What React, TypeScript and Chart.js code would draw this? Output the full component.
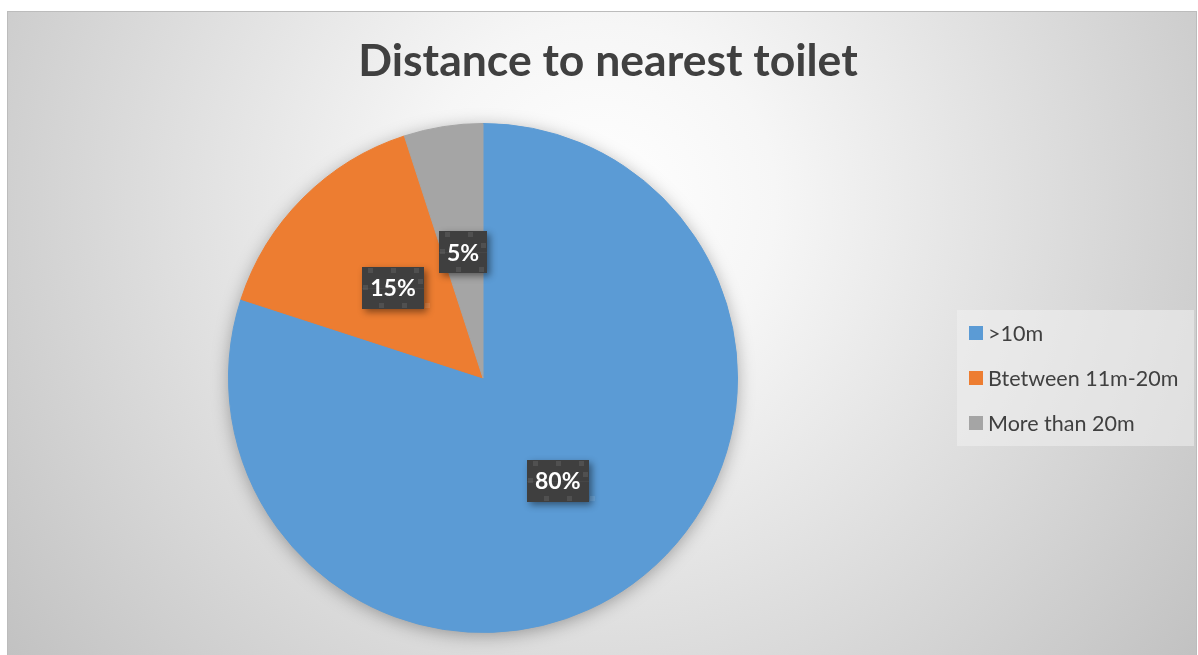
import React, { useEffect, useRef } from "react";
import { Chart, registerables } from "chart.js";

Chart.register(...registerables);

const categories = [">10m", "Btetween 11m-20m", "More than 20m"];
const values = [80, 15, 5];
const percentLabels = ["80%", "15%", "5%"];
const colors = ["#5b9bd5", "#ed7d31", "#a5a5a5"];
const titleText = "Distance to nearest toilet";

const W = 1198;
const H = 655;

const backgroundPlugin = {
  id: "bgPlugin",
  beforeDraw(chart: any) {
    const ctx = chart.ctx;
    ctx.save();
    ctx.fillStyle = "#ffffff";
    ctx.fillRect(0, 0, W, H);
    const g = ctx.createRadialGradient(600, 200, 0, 600, 200, 800);
    g.addColorStop(0, "#ffffff");
    g.addColorStop(0.22, "#f6f6f6");
    g.addColorStop(1, "#bdbdbd");
    ctx.fillStyle = g;
    ctx.fillRect(7, 11, 1190, 650);
    ctx.strokeStyle = "#bcbcbc";
    ctx.lineWidth = 1;
    ctx.strokeRect(7.5, 11.5, 1189, 660);
    // title
    ctx.fillStyle = "#404040";
    ctx.font = "bold 44.5px Lato, 'Open Sans', sans-serif";
    ctx.textAlign = "center";
    ctx.textBaseline = "alphabetic";
    ctx.fillText(titleText, 608, 76);
    // legend box
    ctx.fillStyle = "rgba(240,240,240,0.55)";
    ctx.fillRect(957, 310, 237, 136);
    const rows = [333, 378, 423];
    ctx.font = "21.5px Lato, 'Open Sans', sans-serif";
    ctx.textAlign = "left";
    ctx.textBaseline = "middle";
    const labels = chart.data.labels as string[];
    const bg = chart.data.datasets[0].backgroundColor as string[];
    labels.forEach((l, i) => {
      ctx.fillStyle = bg[i];
      ctx.fillRect(969, rows[i] - 7, 14, 14);
      ctx.fillStyle = "#404040";
      ctx.fillText(l, 988, rows[i] + 1);
    });
    ctx.restore();
  },
  beforeDatasetsDraw(chart: any) {
    const meta = chart.getDatasetMeta(0);
    const arc = meta.data[0];
    if (!arc) return;
    const ctx = chart.ctx;
    ctx.save();
    ctx.shadowColor = "rgba(0,0,0,0.35)";
    ctx.shadowBlur = 18;
    ctx.shadowOffsetX = 0;
    ctx.shadowOffsetY = 3;
    ctx.fillStyle = "#888888";
    ctx.beginPath();
    ctx.arc(arc.x, arc.y, arc.outerRadius - 1, 0, Math.PI * 2);
    ctx.fill();
    ctx.restore();
  },
  afterDatasetsDraw(chart: any) {
    const meta = chart.getDatasetMeta(0);
    const ctx = chart.ctx;
    ctx.save();
    ctx.font = "bold 23px Lato, 'Open Sans', sans-serif";
    ctx.textAlign = "center";
    ctx.textBaseline = "middle";
    meta.data.forEach((el: any, i: number) => {
      const c = el.getCenterPoint();
      const txt = percentLabels[i];
      const tw = ctx.measureText(txt).width;
      const bw = Math.round(tw + 16);
      const bh = 42;
      const x0 = Math.round(c.x - bw / 2);
      const y0 = Math.round(c.y - bh / 2);
      ctx.save();
      ctx.shadowColor = "rgba(0,0,0,0.45)";
      ctx.shadowBlur = 7;
      ctx.shadowOffsetX = 3;
      ctx.shadowOffsetY = 3;
      ctx.fillStyle = "#3f3f3f";
      ctx.fillRect(x0, y0, bw, bh);
      ctx.restore();
      // texture
      ctx.fillStyle = "rgba(255,255,255,0.09)";
      for (let xx = x0 + 6; xx < x0 + bw - 4; xx += 23) {
        ctx.fillRect(xx, y0 + 1, 5, 5);
        ctx.fillRect(xx + 11, y0 + bh - 6, 5, 5);
      }
      ctx.fillRect(x0 + 1, y0 + 18, 5, 5);
      ctx.fillRect(x0 + bw - 6, y0 + 12, 5, 5);
      ctx.fillStyle = "rgba(255,255,255,0.04)";
      ctx.fillRect(x0, y0 + Math.round(bh / 2), bw, 1);
      ctx.fillStyle = "#ffffff";
      ctx.fillText(txt, c.x, c.y + 1);
    });
    ctx.restore();
  },
};

export default function App() {
  const ref = useRef<HTMLCanvasElement>(null);
  useEffect(() => {
    if (!ref.current) return;
    const chart = new Chart(ref.current, {
      type: "pie",
      data: {
        labels: categories,
        datasets: [
          {
            data: values,
            backgroundColor: colors,
            borderColor: colors,
            borderWidth: 1,
          },
        ],
      },
      options: {
        responsive: false,
        animation: false,
        layout: { padding: { left: 228, right: 460, top: 123, bottom: 22 } },
        plugins: {
          legend: { display: false },
          title: { display: false },
          tooltip: { enabled: false },
        },
      },
      plugins: [backgroundPlugin],
    });
    return () => chart.destroy();
  }, []);
  return (
    <div style={{ position: "absolute", left: 0, top: 0, width: W, height: H }}>
      <canvas ref={ref} width={W} height={H} style={{ display: "block" }} />
    </div>
  );
}
